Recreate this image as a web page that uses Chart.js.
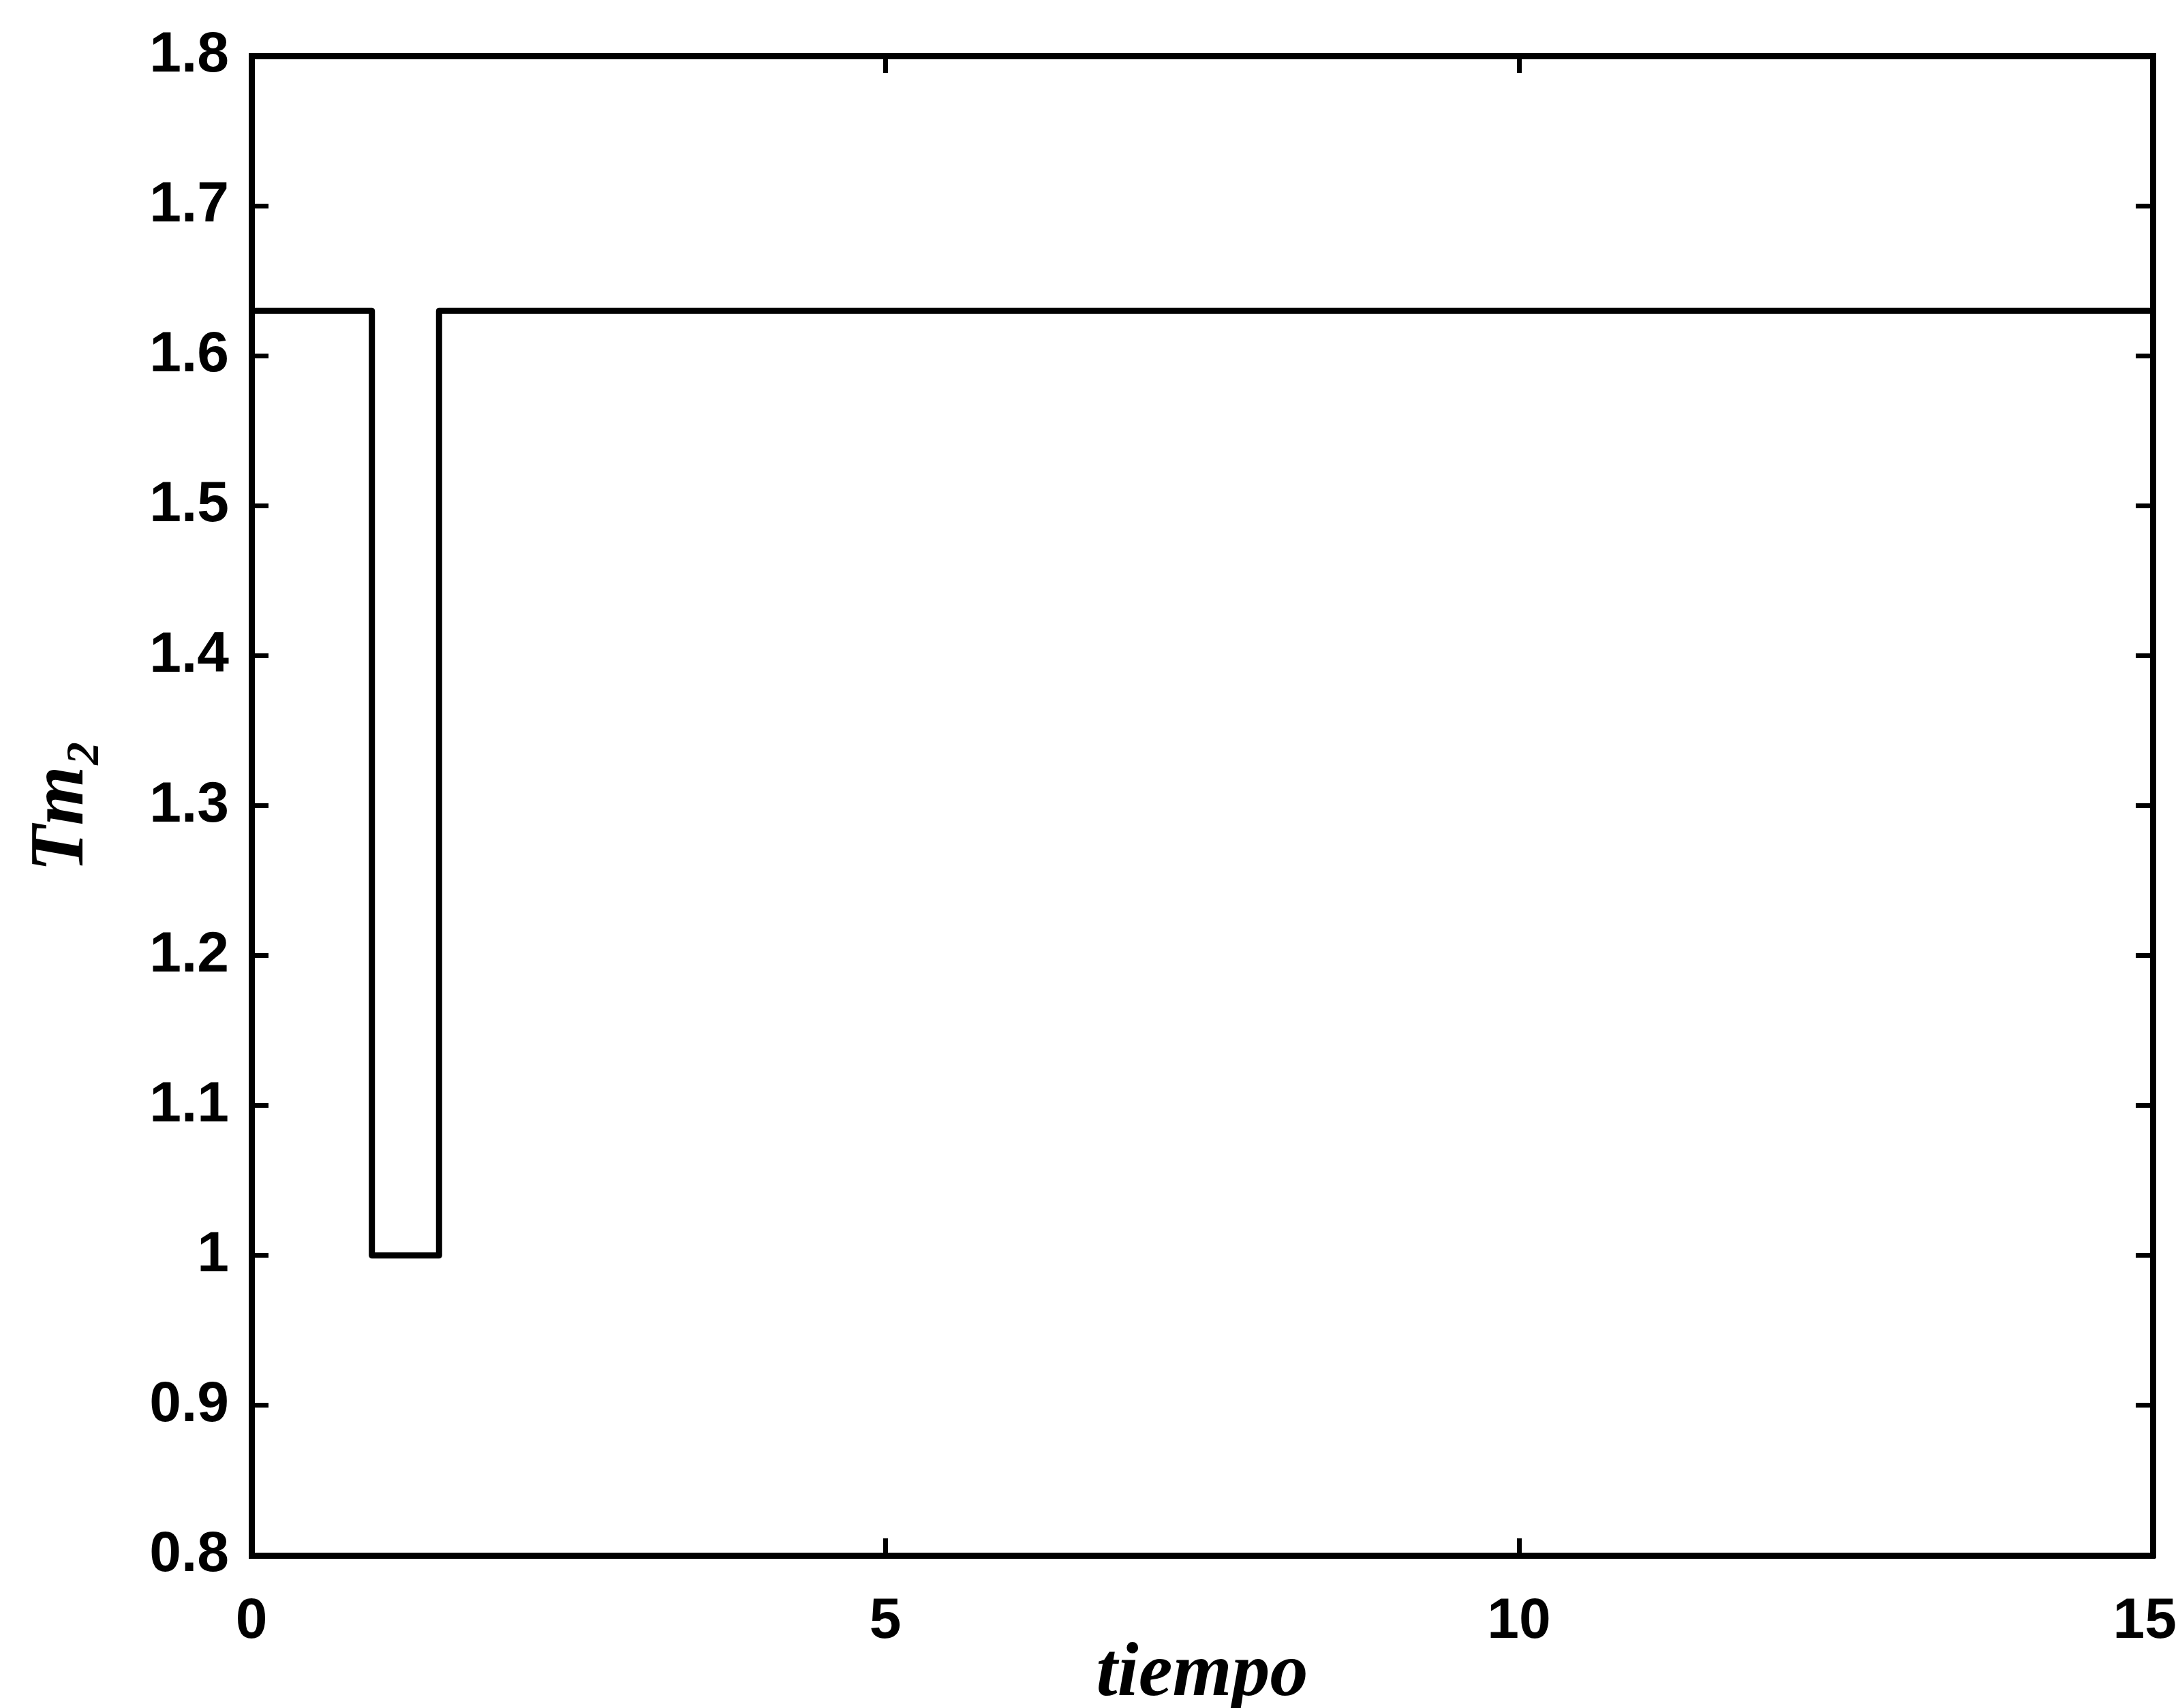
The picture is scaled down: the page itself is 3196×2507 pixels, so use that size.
<!DOCTYPE html>
<html>
<head>
<meta charset="utf-8">
<script src="https://cdn.jsdelivr.net/npm/chart.js@4/dist/chart.umd.min.js"></script>
<style>
  html, body { margin: 0; padding: 0; background: #fff; }
  canvas { display: block; }
</style>
</head>
<body>
<canvas id="chart" width="3196" height="2507"></canvas>
<script>
// datos
const tiempo = [0, 0.95, 1.48, 15];
const tm2 = [1.63, 1.0, 1.63, 1.63];
const xTicks = [0, 5, 10, 15];
const yTicks = [0.8, 0.9, 1.0, 1.1, 1.2, 1.3, 1.4, 1.5, 1.6, 1.7, 1.8];
const xTitle = 'tiempo';
const yTitle = 'Tm\u2082';

const tickFont = { family: "'Liberation Sans', Arial, sans-serif", size: 84, weight: 'bold' };
const grid = { display: true, drawOnChartArea: false, drawTicks: true, tickLength: -25, color: '#000', lineWidth: 7 };
const border = { display: true, color: '#000', width: 9 };

function setTicks(values) {
    return scale => { scale.ticks = values.map(v => ({ value: v })); };
}
function fixSize(prop, size) {
    return scale => {
        scale[prop] = size;
        scale.paddingLeft = 0; scale.paddingRight = 0;
        scale.paddingTop = 0; scale.paddingBottom = 0;
    };
}
const fmt = v => String(+Number(v).toFixed(1));
// el ultimo rotulo queda un poco corrido hacia adentro (como en matlab)
const fmtX = v => v === xTicks[xTicks.length - 1] ? fmt(v) + ' ' : fmt(v);

new Chart(document.getElementById('chart'), {
    type: 'line',
    data: {
        datasets: [{
            data: tiempo.map((t, i) => ({ x: t, y: tm2[i] })),
            borderColor: '#000',
            borderWidth: 9,
            pointRadius: 0,
            stepped: 'before',
            borderJoinStyle: 'round',
            fill: false
        }]
    },
    options: {
        responsive: false,
        animation: false,
        devicePixelRatio: 1,
        layout: { padding: { top: 82, right: 37, bottom: 0, left: 0 } },
        plugins: { legend: { display: false }, tooltip: { enabled: false } },
        scales: {
            x: {
                type: 'linear', position: 'bottom', min: 0, max: 15,
                afterBuildTicks: setTicks(xTicks),
                afterFit: fixSize('height', 224),
                grid, border,
                ticks: { font: tickFont, color: '#000', padding: 72, callback: fmtX, maxRotation: 0, autoSkip: false },
                title: {
                    display: true, text: xTitle, color: '#000',
                    font: { family: "'Liberation Serif', 'Times New Roman', serif", size: 112, weight: 'bold', style: 'italic', lineHeight: 1 },
                    padding: { top: 0, bottom: -8 }
                }
            },
            x2: {
                type: 'linear', position: 'top', min: 0, max: 15,
                afterBuildTicks: setTicks(xTicks),
                afterFit: fixSize('height', 0),
                grid, border,
                ticks: { callback: () => '', autoSkip: false, padding: 0 }
            },
            y: {
                type: 'linear', position: 'left', min: 0.8, max: 1.8,
                afterBuildTicks: setTicks(yTicks),
                afterFit: fixSize('width', 369),
                grid, border,
                ticks: { font: tickFont, color: '#000', padding: 58, callback: fmt, autoSkip: false },
                title: {
                    display: true, text: yTitle, color: '#000',
                    font: { family: "'Liberation Serif', 'Times New Roman', serif", size: 112, weight: 'bold', style: 'italic', lineHeight: 1 },
                    padding: { top: 36, bottom: 36 }
                }
            },
            y2: {
                type: 'linear', position: 'right', min: 0.8, max: 1.8,
                afterBuildTicks: setTicks(yTicks),
                afterFit: fixSize('width', 0),
                grid, border,
                ticks: { callback: () => '', autoSkip: false, padding: 0 }
            }
        }
    }
});
</script>
</body>
</html>
